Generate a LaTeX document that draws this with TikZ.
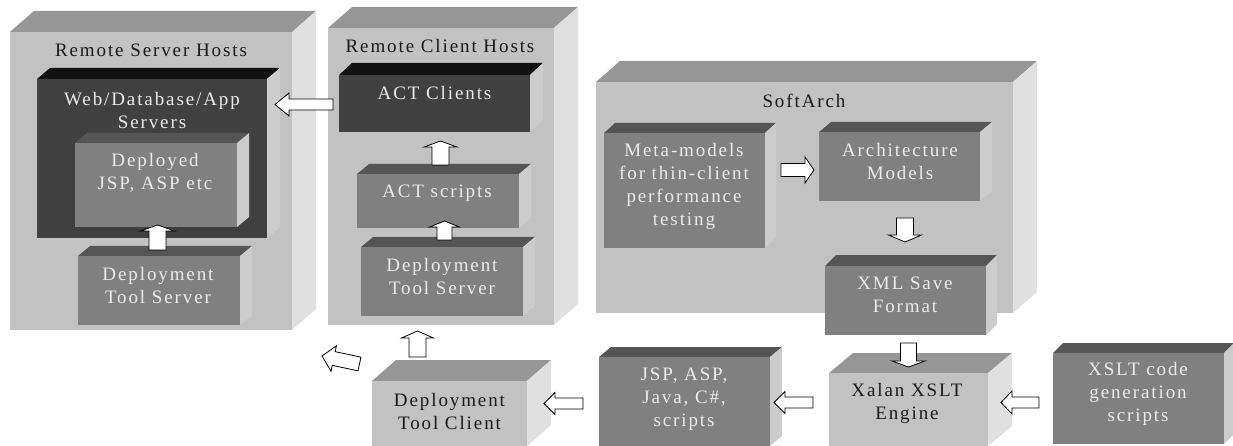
\documentclass[tikz,border=0pt]{standalone}
\usepackage{fontspec}
\setmainfont[LetterSpace=10]{Liberation Serif}
\usetikzlibrary{calc}
\definecolor{cLF}{HTML}{C2C2C2}\definecolor{cLT}{HTML}{969696}\definecolor{cLS}{HTML}{E0E0E0}
\definecolor{cMF}{HTML}{808080}\definecolor{cMT}{HTML}{555555}\definecolor{cMS}{HTML}{CCCCCC}
\definecolor{cDF}{HTML}{404040}\definecolor{cDT}{HTML}{111111}\definecolor{cDS}{HTML}{CCCCCC}
\tikzset{
  lightfront/.style={fill=cLF},lighttop/.style={fill=cLT},lightside/.style={fill=cLS},
  midfront/.style={fill=cMF},midtop/.style={fill=cMT},midside/.style={fill=cMS},
  darkfront/.style={fill=cDF},darktop/.style={fill=cDT},darkside/.style={fill=cDS},
  boxface/.style={inner sep=0pt,outer sep=0pt,draw=none},
  txt/.style={font=\fontsize{19}{23}\selectfont,align=center,inner sep=0pt},
  txtdark/.style={txt,text=black!90},
  txtlight/.style={txt,text=white!92!black},
  blockarrow/.style={draw=black,fill=white,line width=0.8pt,line join=miter},
}
% palette, name, x1, y1, x2, y2, dx, dy
\newcommand{\cuboid}[8]{%
  \fill[#1top] (#3,#4) -- ({#3+#7},{#4-#8}) -- ({#5+#7},{#4-#8}) -- (#5,#4) -- cycle;
  \fill[#1side] (#5,#4) -- ({#5+#7},{#4-#8}) -- ({#5+#7},{#6-#8}) -- (#5,#6) -- cycle;
  \pgfmathsetmacro{\cubW}{#5-#3}\pgfmathsetmacro{\cubH}{#6-#4}
  \node[boxface,#1front,minimum width=\cubW pt,minimum height=\cubH pt] (#2) at ({(#3+#5)/2},{(#4+#6)/2}) {};
}
% from, to, shaft half, head half, head length
\newcommand{\blockarrow}[5]{%
  \coordinate (neck) at ($(#2)!#5pt!(#1)$);
  \draw[blockarrow] ($(#1)!#3pt!90:(#2)$) -- ($(neck)!#3pt!-90:(#1)$) -- ($(neck)!#4pt!-90:(#1)$)
    -- (#2) -- ($(neck)!#4pt!90:(#1)$) -- ($(neck)!#3pt!90:(#1)$) -- ($(#1)!#3pt!-90:(#2)$) -- cycle;
}
\begin{document}
\begin{tikzpicture}[x=1pt,y=-1pt]
\useasboundingbox (0,0) rectangle (1233,446);
% Remote server hosts
\cuboid{light}{serverhosts}{10}{32}{292}{330}{24}{21}
\cuboid{dark}{webservers}{37}{79}{267}{238}{13}{11}
\cuboid{mid}{deployed}{75}{143}{237}{227}{12}{10}
\cuboid{mid}{dts1}{78}{256}{240}{325}{12}{10}
\node[txtdark] (serverhostsT) at (151,50) {Remote Server Hosts};
\node[txtlight] (webserversT) at (152,110.5) {Web/Database/App\\Servers};
\node[txtlight] (deployedT) at (155,173) {Deployed\\JSP, ASP etc};
\node[txtlight] (dts1T) at (158,286) {Deployment\\Tool Server};
% Remote client hosts
\cuboid{light}{clienthosts}{328}{28}{554}{325}{24}{21}
\cuboid{dark}{actclients}{339}{75}{530}{132}{13}{12}
\cuboid{mid}{actscripts}{357}{174}{519}{228}{12}{10}
\cuboid{mid}{dts2}{361}{247}{523}{316}{12}{10}
\node[txtdark] (clienthostsT) at (440,46) {Remote Client Hosts};
\node[txtlight] (actclientsT) at (434.5,93) {ACT Clients};
\node[txtlight] (actscriptsT) at (437,193) {ACT scripts};
\node[txtlight] (dts2T) at (442,277) {Deployment\\Tool Server};
% SoftArch
\cuboid{light}{softarch}{596}{82}{1013}{313}{24}{21}
\cuboid{mid}{meta}{604}{133}{765}{248}{11}{10}
\cuboid{mid}{archmodels}{819}{132}{980}{201}{12}{10}
\cuboid{mid}{xmlsave}{825}{266}{986}{335}{11}{11}
\node[txtdark] (softarchT) at (804,101) {SoftArch};
\node[txtlight] (metaT) at (684,186.5) {Meta-models\\for thin-client\\performance\\testing};
\node[txtlight] (archmodelsT) at (900,162) {Architecture\\Models};
\node[txtlight] (xmlsaveT) at (905,295) {XML Save\\Format};
% Bottom row
\cuboid{light}{dtclient}{372}{381}{527}{446}{24}{21}
\cuboid{mid}{jsp}{599}{357}{770}{446}{12}{10}
\cuboid{light}{xalan}{829}{373}{988}{446}{24}{20}
\cuboid{mid}{xslt}{1053}{353}{1224}{444}{10}{10}
\node[txtdark] (dtclientT) at (449.5,411) {Deployment\\Tool Client};
\node[txtlight] (jspT) at (684,399) {JSP, ASP,\\Java, C\#,\\scripts};
\node[txtdark] (xalanT) at (907,403.5) {Xalan XSLT\\Engine};
\node[txtlight] (xsltT) at (1138,394) {XSLT code\\generation\\scripts};
% Arrow end points
\coordinate (a1s) at (333,104.5); \coordinate (a1t) at (275,104.5);
\coordinate (a2s) at (157.5,250); \coordinate (a2t) at (157.5,225);
\coordinate (a3s) at (440.5,165); \coordinate (a3t) at (440.5,141);
\coordinate (a4s) at (444.5,240); \coordinate (a4t) at (444.5,221);
\coordinate (a5s) at (417.5,357); \coordinate (a5t) at (417.5,331);
\coordinate (a6s) at (359.5,364); \coordinate (a6t) at (322,356);
\coordinate (a7s) at (583,403.5); \coordinate (a7t) at (544,403.5);
\coordinate (a8s) at (813,402.5); \coordinate (a8t) at (774,402.5);
\coordinate (a9s) at (1039,402.5); \coordinate (a9t) at (1001,402.5);
\coordinate (a10s) at (781,170); \coordinate (a10t) at (814,170);
\coordinate (a11s) at (905,218); \coordinate (a11t) at (905,242);
\coordinate (a12s) at (908.5,343); \coordinate (a12t) at (908.5,367);
\blockarrow{a1s}{a1t}{5.5}{11.5}{14}
\blockarrow{a2s}{a2t}{8.5}{17}{6}
\blockarrow{a3s}{a3t}{8.5}{16.5}{6}
\blockarrow{a4s}{a4t}{7.5}{15}{6}
\blockarrow{a5s}{a5t}{8.5}{16}{7}
\blockarrow{a6s}{a6t}{7}{13}{12}
\blockarrow{a7s}{a7t}{5.5}{11}{11}
\blockarrow{a8s}{a8t}{5.5}{11}{11}
\blockarrow{a9s}{a9t}{5.5}{11.5}{11}
\blockarrow{a10s}{a10t}{6.5}{13}{9}
\blockarrow{a11s}{a11t}{8.5}{16.5}{7}
\blockarrow{a12s}{a12t}{8}{16.5}{6}
\end{tikzpicture}
\end{document}
